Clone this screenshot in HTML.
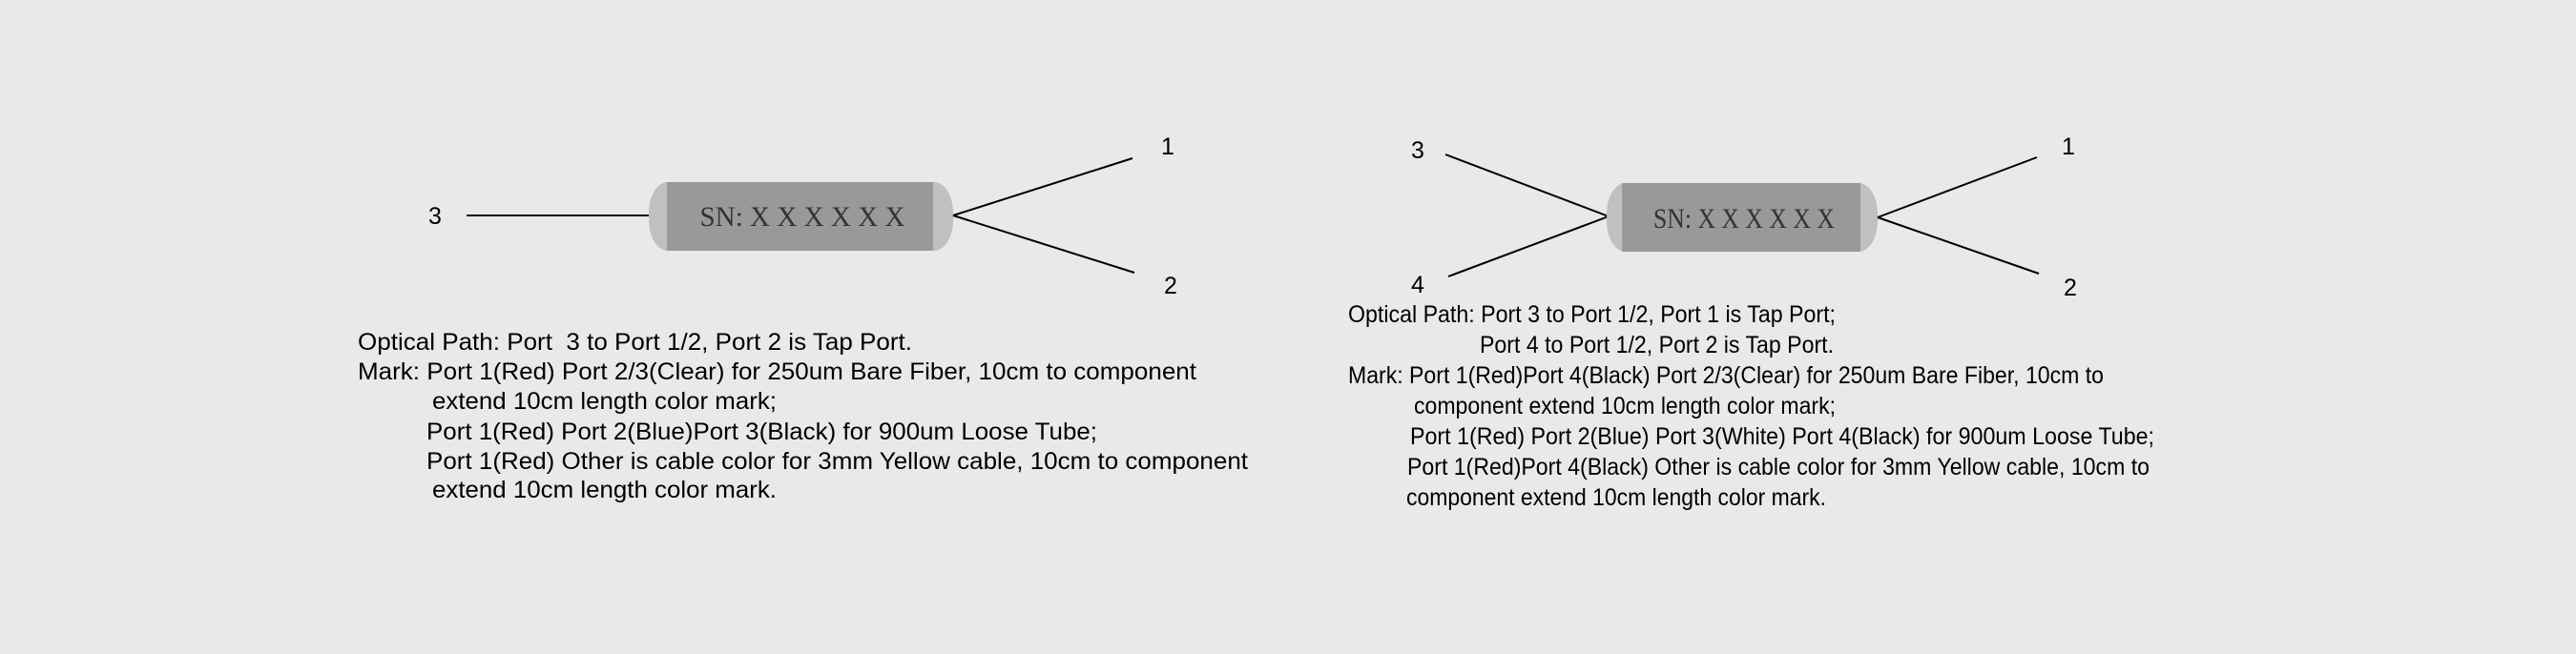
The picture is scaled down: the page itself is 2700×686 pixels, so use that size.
<!DOCTYPE html>
<html><head><meta charset="utf-8"><style>
html,body{margin:0;padding:0;background:#e9e9e9;}
svg{display:block;}
text{font-family:"Liberation Sans",Arial,sans-serif;fill:#000;}
.t{font-size:25px;}
.sn{font-family:"Liberation Serif",serif;font-size:30px;fill:#333;}
</style></head><body>
<svg width="2700" height="686" viewBox="0 0 2700 686" xmlns="http://www.w3.org/2000/svg">
<rect width="2700" height="686" fill="#e9e9e9"/>
<!-- left diagram -->
<line x1="489" y1="226" x2="681" y2="226" stroke="#000" stroke-width="2"/>
<rect x="680" y="191" width="319" height="72" rx="20" ry="32" fill="#c0c0c0"/>
<rect x="699" y="191" width="279" height="72" fill="#999"/>
<text class="sn" x="841" y="237" text-anchor="middle" textLength="215" lengthAdjust="spacingAndGlyphs">SN: X X X X X X</text>
<line x1="999" y1="226" x2="1187" y2="166" stroke="#000" stroke-width="2"/>
<line x1="999" y1="226" x2="1189" y2="286" stroke="#000" stroke-width="2"/>
<text class="t" x="456" y="235" text-anchor="middle">3</text>
<text class="t" x="1224" y="162" text-anchor="middle">1</text>
<text class="t" x="1227" y="308" text-anchor="middle">2</text>
<text class="t" x="375" y="367" textLength="581" lengthAdjust="spacingAndGlyphs">Optical Path: Port &#160;3 to Port 1/2, Port 2 is Tap Port.</text>
<text class="t" x="375" y="398" textLength="879" lengthAdjust="spacingAndGlyphs">Mark: Port 1(Red) Port 2/3(Clear) for 250um Bare Fiber, 10cm to component</text>
<text class="t" x="453" y="429" textLength="361" lengthAdjust="spacingAndGlyphs">extend 10cm length color mark;</text>
<text class="t" x="447" y="461" textLength="703" lengthAdjust="spacingAndGlyphs">Port 1(Red) Port 2(Blue)Port 3(Black) for 900um Loose Tube;</text>
<text class="t" x="447" y="492" textLength="861" lengthAdjust="spacingAndGlyphs">Port 1(Red) Other is cable color for 3mm Yellow cable, 10cm to component</text>
<text class="t" x="453" y="522" textLength="361" lengthAdjust="spacingAndGlyphs">extend 10cm length color mark.</text>
<!-- right diagram -->
<line x1="1515" y1="162" x2="1686" y2="227" stroke="#000" stroke-width="2"/>
<line x1="1518" y1="290" x2="1686" y2="227" stroke="#000" stroke-width="2"/>
<rect x="1684" y="192" width="284" height="72" rx="20" ry="32" fill="#c0c0c0"/>
<rect x="1700" y="192" width="250" height="72" fill="#999"/>
<text class="sn" x="1828" y="239" text-anchor="middle" textLength="190" lengthAdjust="spacingAndGlyphs">SN: X X X X X X</text>
<line x1="1968" y1="228" x2="2135" y2="165" stroke="#000" stroke-width="2"/>
<line x1="1968" y1="228" x2="2137" y2="287" stroke="#000" stroke-width="2"/>
<text class="t" x="1486" y="166" text-anchor="middle">3</text>
<text class="t" x="1486" y="307" text-anchor="middle">4</text>
<text class="t" x="2168" y="162" text-anchor="middle">1</text>
<text class="t" x="2170" y="310" text-anchor="middle">2</text>
<text class="t" x="1413" y="338" textLength="511" lengthAdjust="spacingAndGlyphs">Optical Path: Port 3 to Port 1/2, Port 1 is Tap Port;</text>
<text class="t" x="1551" y="370" textLength="371" lengthAdjust="spacingAndGlyphs">Port 4 to Port 1/2, Port 2 is Tap Port.</text>
<text class="t" x="1413" y="402" textLength="792" lengthAdjust="spacingAndGlyphs">Mark: Port 1(Red)Port 4(Black) Port 2/3(Clear) for 250um Bare Fiber, 10cm to</text>
<text class="t" x="1482" y="434" textLength="442" lengthAdjust="spacingAndGlyphs">component extend 10cm length color mark;</text>
<text class="t" x="1478" y="466" textLength="780" lengthAdjust="spacingAndGlyphs">Port 1(Red) Port 2(Blue) Port 3(White) Port 4(Black) for 900um Loose Tube;</text>
<text class="t" x="1475" y="498" textLength="778" lengthAdjust="spacingAndGlyphs">Port 1(Red)Port 4(Black) Other is cable color for 3mm Yellow cable, 10cm to</text>
<text class="t" x="1474" y="530" textLength="440" lengthAdjust="spacingAndGlyphs">component extend 10cm length color mark.</text>
</svg>
</body></html>
